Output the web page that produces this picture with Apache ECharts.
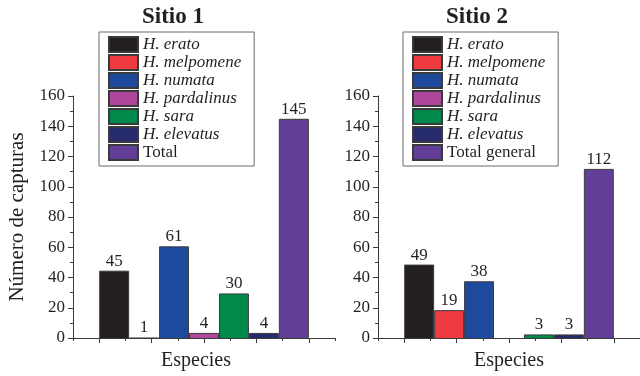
<!DOCTYPE html>
<html><head><meta charset="utf-8">
<script src="https://cdn.jsdelivr.net/npm/echarts@6/dist/echarts.min.js"></script>
<style>html,body{margin:0;padding:0;background:#fff}#c{width:640px;height:376px}</style>
</head><body><div id="c"></div><script>
// ---- data ----
const species = ['H. erato', 'H. melpomene', 'H. numata', 'H. pardalinus', 'H. sara', 'H. elevatus'];
const totalNames = ['Total', 'Total general'];
const panelTitles = ['Sitio 1', 'Sitio 2'];
const sitio1 = [45, 1, 61, 4, 30, 4, 145];
const sitio2 = [49, 19, 38, 0, 3, 3, 112];
const yMin = 0, yMax = 160, yStep = 20;
const xTickSlots = ['', '', '', '', ''];
const xName = 'Especies';
const yName = 'Número de capturas';

// ---- style ----
const colors = ['#231f20', '#ee3b3f', '#1e4a9e', '#b0479c', '#00894a', '#262b6b', '#633e98'];
const FONT = '"Liberation Serif", "Times New Roman", serif';
const INK = '#231f20';
const AX = '#3a3a3a';
const panels = [
  { vals: sitio1, left: 73, legendLeft: 99, titleX: 173, nameShift: 16 },
  { vals: sitio2, left: 378, legendLeft: 403, titleX: 477, nameShift: 0 }
];
const TOP = 96, H = 243, W = 262, BAND = W / xTickSlots.length;

const grid = [], xAxis = [], yAxis = [], series = [], legend = [], graphic = [];
panels.forEach((pn, p) => {
  const names = species.concat(totalNames[p]);
  grid.push({ left: pn.left, top: TOP, width: W, height: H, containLabel: false });
  grid.push({ left: pn.left + BAND / 2, top: TOP, width: W - BAND, height: H, containLabel: false });
  // boundary ticks (minor) + axis line + name
  xAxis.push({
    type: 'category', gridIndex: p * 2, data: xTickSlots, boundaryGap: true, position: 'bottom',
    axisLine: { show: true, lineStyle: { color: AX, width: 1 } },
    axisTick: { show: true, length: 3, lineStyle: { color: AX } },
    axisLabel: { show: false },
    name: xName, nameLocation: 'middle', nameGap: 13,
    nameTextStyle: { fontFamily: FONT, fontSize: 20, color: INK, padding: [0, pn.nameShift, 0, 0] }
  });
  // major ticks at centers
  xAxis.push({
    type: 'category', gridIndex: p * 2, data: xTickSlots, boundaryGap: true, position: 'bottom',
    axisLine: { show: false },
    axisTick: { show: true, alignWithLabel: true, length: 5, lineStyle: { color: AX } },
    axisLabel: { show: false }
  });
  // bar axis
  xAxis.push({
    type: 'category', gridIndex: p * 2 + 1, data: names, position: 'bottom',
    axisLine: { show: false }, axisTick: { show: false }, axisLabel: { show: false }
  });
  yAxis.push({
    type: 'value', gridIndex: p * 2, min: yMin, max: yMax, interval: yStep,
    axisLine: { show: true, lineStyle: { color: AX, width: 1 } },
    axisTick: { show: true, length: 5, lineStyle: { color: AX } },
    minorTick: { show: true, splitNumber: 2, length: 3, lineStyle: { color: AX } },
    splitLine: { show: false },
    axisLabel: { fontFamily: FONT, fontSize: 17, color: INK, margin: 8 },
    name: p === 0 ? yName : '', nameLocation: 'middle', nameGap: 45,
    nameTextStyle: { fontFamily: FONT, fontSize: 21, color: INK }
  });
  yAxis.push({
    type: 'value', gridIndex: p * 2 + 1, min: yMin, max: yMax, interval: yStep,
    show: false, splitLine: { show: false }
  });
  names.forEach((nm, i) => {
    series.push({
      type: 'bar', name: nm, xAxisIndex: p * 3 + 2, yAxisIndex: p * 2 + 1,
      stack: 'panel' + p, barCategoryGap: '0%',
      data: names.map((_, j) => {
        if (j !== i) return '-';
        const v = pn.vals[i];
        return v === 0 ? { value: v, itemStyle: { borderWidth: 0 } } : v;
      }),
      itemStyle: { color: colors[i], borderColor: AX, borderWidth: 1 },
      label: {
        show: true, position: 'top', distance: 1,
        fontFamily: FONT, fontSize: 17, color: INK,
        formatter: (d) => (d.value ? String(d.value) : '')
      },
      emphasis: { disabled: true }
    });
  });
  legend.push({
    data: names, orient: 'vertical', left: pn.legendLeft, top: 32,
    padding: [4, 13, 5, 9], itemWidth: 29, itemHeight: 15, itemGap: 1,
    borderColor: '#6b6b6b', borderWidth: 1, selectedMode: false,
    icon: 'rect',
    formatter: (n) => (n.indexOf('Total') === 0 ? '{n|' + n + '}' : '{i|' + n + '}'),
    textStyle: {
      fontFamily: FONT, fontSize: 17, color: INK,
      rich: {
        i: { fontFamily: FONT, fontSize: 17, fontStyle: 'italic', color: INK },
        n: { fontFamily: FONT, fontSize: 17, color: INK }
      }
    }
  });
  graphic.push({
    type: 'text', x: pn.titleX, y: 17,
    style: {
      text: panelTitles[p], fill: INK, align: 'center', verticalAlign: 'middle',
      font: 'bold 23px ' + FONT
    }
  });
});

const chart = echarts.init(document.getElementById('c'), null, { renderer: 'canvas' });
chart.setOption({
  animation: false, backgroundColor: '#fff',
  grid, xAxis, yAxis, series, legend, graphic
});
</script></body></html>
